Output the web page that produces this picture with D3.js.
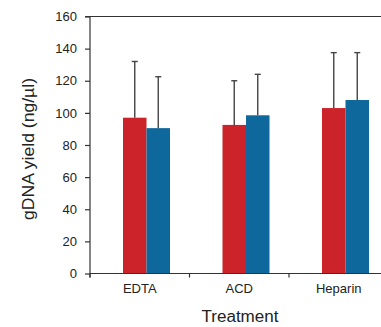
<!DOCTYPE html>
<html lang="en">
<head>
  <meta charset="UTF-8">
  <title>gDNA yield by treatment</title>
  <script src="https://d3js.org/d3.v7.min.js"></script>
  <style>
    body { margin: 0; padding: 0; background: #fff; }
    svg { display: block; }
    text { font-family: "Liberation Sans", Arial, sans-serif; fill: #222; }
  </style>
</head>
<body>
  <svg id="chart" width="381" height="327"></svg>
  <script>
    // data
    const treatments = ["EDTA", "ACD", "Heparin"];
    const seriesNames = ["a", "b"];
    const redValues = [97, 92.5, 103];
    const blueValues = [90.5, 98.5, 108];
    const redErrors = [35, 27.5, 34.5];
    const blueErrors = [32, 25.5, 29.5];
    const yTicks = [0, 20, 40, 60, 80, 100, 120, 140, 160];

    const colors = { a: "#cc2229", b: "#0e689b" };

    const width = 381, height = 327;
    const margin = { top: 16, right: 0, bottom: 54, left: 90 };

    const svg = d3.select("#chart");

    const rows = [];
    treatments.forEach((t, i) => {
      rows.push({ t: t, s: "a", v: redValues[i], e: redErrors[i] });
      rows.push({ t: t, s: "b", v: blueValues[i], e: blueErrors[i] });
    });

    const x0 = d3.scaleBand()
      .domain(treatments)
      .range([margin.left, 388.5])
      .padding(0);

    // bars sit a little right of the band centre in the original
    const x1 = d3.scaleBand()
      .domain(seriesNames)
      .range([33, 80])
      .padding(0);

    const y = d3.scaleLinear()
      .domain([0, 160])
      .range([273.5, margin.top + 0.5]);

    // top frame line
    svg.append("line")
      .attr("x1", 85).attr("x2", width)
      .attr("y1", y(160)).attr("y2", y(160))
      .attr("stroke", "#333").attr("stroke-width", 1.2);

    // bars
    svg.append("g").selectAll("rect")
      .data(rows)
      .enter().append("rect")
      .attr("x", d => x0(d.t) + x1(d.s))
      .attr("y", d => y(d.v))
      .attr("width", x1.bandwidth())
      .attr("height", d => y(0) - y(d.v))
      .attr("fill", d => colors[d.s]);

    // error bars (upper only)
    const err = svg.append("g").attr("stroke", "#444").attr("stroke-width", 1.4);
    rows.forEach(d => {
      const cx = x0(d.t) + x1(d.s) + x1.bandwidth() / 2;
      err.append("line")
        .attr("x1", cx).attr("x2", cx)
        .attr("y1", y(d.v)).attr("y2", y(d.v + d.e));
      err.append("line")
        .attr("x1", cx - 3).attr("x2", cx + 3)
        .attr("y1", y(d.v + d.e)).attr("y2", y(d.v + d.e));
    });

    // y axis
    const yAxis = svg.append("g")
      .attr("transform", `translate(${margin.left},0)`)
      .call(d3.axisLeft(y).tickValues(yTicks).tickSize(5).tickPadding(8));
    yAxis.select(".domain").attr("stroke", "#333").attr("stroke-width", 1.2)
      .attr("d", `M0,${y(160)}V${y(0) + 4}`);
    yAxis.selectAll(".tick line").attr("stroke", "#333").attr("stroke-width", 1.2);
    yAxis.selectAll("text").attr("font-size", 13).attr("fill", "#222")
      .attr("font-family", "Liberation Sans, Arial, sans-serif");

    // x axis, ticks at band boundaries
    const xAxis = svg.append("g")
      .attr("transform", `translate(0,${y(0)})`);
    xAxis.append("line")
      .attr("x1", margin.left).attr("x2", width)
      .attr("stroke", "#333").attr("stroke-width", 1.2);
    xAxis.selectAll(".bt")
      .data(treatments)
      .enter().append("line")
      .attr("class", "bt")
      .attr("x1", d => x0(d)).attr("x2", d => x0(d))
      .attr("y1", 0).attr("y2", 4)
      .attr("stroke", "#333").attr("stroke-width", 1.2);
    xAxis.selectAll(".lab")
      .data(treatments)
      .enter().append("text")
      .attr("class", "lab")
      .attr("x", d => x0(d) + x0.bandwidth() / 2)
      .attr("y", 19)
      .attr("text-anchor", "middle")
      .attr("font-size", 13)
      .text(d => d);

    // axis titles
    svg.append("text")
      .attr("x", 240)
      .attr("y", 322)
      .attr("text-anchor", "middle")
      .attr("font-size", 16)
      .attr("textLength", 77)
      .attr("lengthAdjust", "spacingAndGlyphs")
      .text("Treatment");

    svg.append("text")
      .attr("transform", "translate(34,149) rotate(-90)")
      .attr("text-anchor", "middle")
      .attr("font-size", 16)
      .attr("textLength", 142)
      .attr("lengthAdjust", "spacingAndGlyphs")
      .text("gDNA yield (ng/µl)");
  </script>
</body>
</html>
